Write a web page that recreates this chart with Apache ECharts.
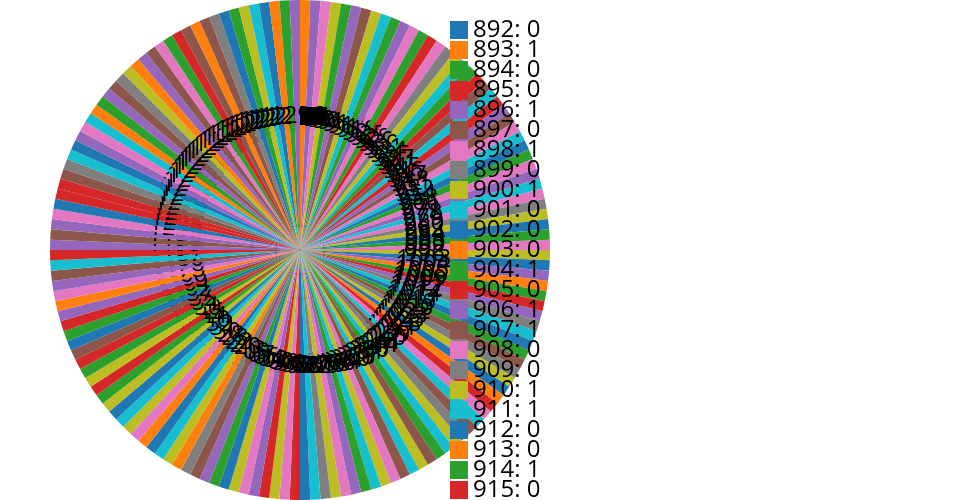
<!DOCTYPE html>
<html>
<head>
<meta charset="utf-8">
<style>html,body{margin:0;padding:0;background:#fff}#c{width:960px;height:500px}</style>
<script src="https://cdn.jsdelivr.net/npm/echarts@6/dist/echarts.min.js"></script>
</head>
<body>
<div id="c"></div>
<script>
const firstIndex = 892;
const lastIndex = 1296;
const legendCount = 25;
const palette = ['#1f77b4','#ff7f0e','#2ca02c','#d62728','#9467bd','#8c564b','#e377c2','#7f7f7f','#bcbd22','#17becf'];
// indices whose value is 1; every other index between firstIndex and lastIndex is 0
const ones = [
  893,896,898,900,904,906,907,910,911,914,916,918,924,925,928,929,930,931,934,935,937,941,945,946,947,948,
  951,952,954,958,966,971,978,979,980,982,984,988,
  990,992,996,1003,1004,1005,1006,1009,1011,1012,1014,1017,1019,1020,1022,1023,1025,1028,
  1031,1037,1039,1040,1041,1044,1047,1050,1051,1057,1058,1060,1061,1064,1066,1068,1070,1079,1081,1082,
  1085,1088,1090,1095,1096,1098,1100,1102,1104,1106,1107,1109,1113,1120,1121,1122,1123,1128,1130,1131,1132,
  1140,1144,1145,1150,1154,1155,1157,1162,1164,1165,1166,1173,1178,1186,1187,1191,1195,
  1196,1197,1206,1208,1212,1215,1225,1227,1229,1231,1232,1236,1238,1241,1243,1244,1246,1247,1249,1250,
  1253,1256,1257,1258,1264,1265,1267,1273,1277,1279,1282,1284,1290,1291,1292,1293,1294,1296
];
const oneSet = new Set(ones);
const indices = [];
for (let n = firstIndex; n <= lastIndex; n++) indices.push(n);
const valueOf = n => (oneSet.has(n) ? 1 : 0);
const colorOf = n => palette[(n - firstIndex) % 10];
const font = '"Open Sans", sans-serif';
const labelFontSize = 24;

// Each slice and its label are painted together, so a later slice covers earlier labels.
function renderSlice(params, api) {
  const n = api.value(0);
  const pos = api.value(1);
  const cs = params.coordSys;
  const angleAt = v => {
    const p = api.coord([1, v]);
    return Math.atan2(p[1] - cs.cy, p[0] - cs.cx);
  };
  const a0 = angleAt(pos);
  let a1 = angleAt(pos + 1);
  if (a1 < a0) a1 += Math.PI * 2;
  const mid = api.coord([0.5, pos + 0.5]);
  return {
    type: 'group',
    children: [
      {
        type: 'sector',
        shape: {cx: cs.cx, cy: cs.cy, r0: 0, r: cs.r, startAngle: a0, endAngle: a1, clockwise: true},
        style: {fill: colorOf(n)}
      },
      {
        type: 'text',
        style: {
          text: String(n),
          x: mid[0],
          y: mid[1] - 8.5,
          align: 'center',
          verticalAlign: 'middle',
          font: labelFontSize + 'px ' + font,
          fill: '#000'
        }
      }
    ]
  };
}

const chart = echarts.init(document.getElementById('c'), null, {renderer: 'canvas', width: 960, height: 500});
chart.setOption({
  animation: false,
  backgroundColor: '#fff',
  polar: {center: [300, 250], radius: [0, 250]},
  angleAxis: {type: 'value', min: 0, max: ones.length, startAngle: 90, clockwise: true, show: false},
  radiusAxis: {type: 'value', min: 0, max: 1, show: false},
  legend: {
    orient: 'vertical',
    left: 450,
    top: 18,
    height: 1000,
    padding: 0,
    itemWidth: 18,
    itemHeight: 18,
    itemGap: -4,
    icon: 'rect',
    selectedMode: false,
    itemStyle: {borderWidth: 0},
    data: indices.slice(0, legendCount).map(String),
    formatter: name => name + ': ' + valueOf(+name),
    textStyle: {fontFamily: font, fontSize: 24, color: '#000', padding: 0}
  },
  graphic: [{
    type: 'rect',
    z: 3,
    silent: true,
    shape: {x: 300, y: 107, width: 27, height: 18},
    style: {fill: '#000'}
  }],
  series: [
    {
      // feeds the legend; its tiny radius sits hidden under the slices painted below
      type: 'pie',
      center: [300, 250],
      radius: [0, 1],
      startAngle: 90,
      clockwise: true,
      silent: true,
      showEmptyCircle: false,
      avoidLabelOverlap: false,
      label: {show: false},
      labelLine: {show: false},
      z: 1,
      data: indices.map(n => ({
        name: String(n),
        value: valueOf(n),
        itemStyle: {color: colorOf(n), borderWidth: 0}
      }))
    },
    {
      type: 'custom',
      coordinateSystem: 'polar',
      silent: true,
      clip: false,
      z: 2,
      renderItem: renderSlice,
      encode: {radius: 2, angle: 1},
      data: ones.map((n, i) => [n, i, 1])
    }
  ]
});
</script>
</body>
</html>
